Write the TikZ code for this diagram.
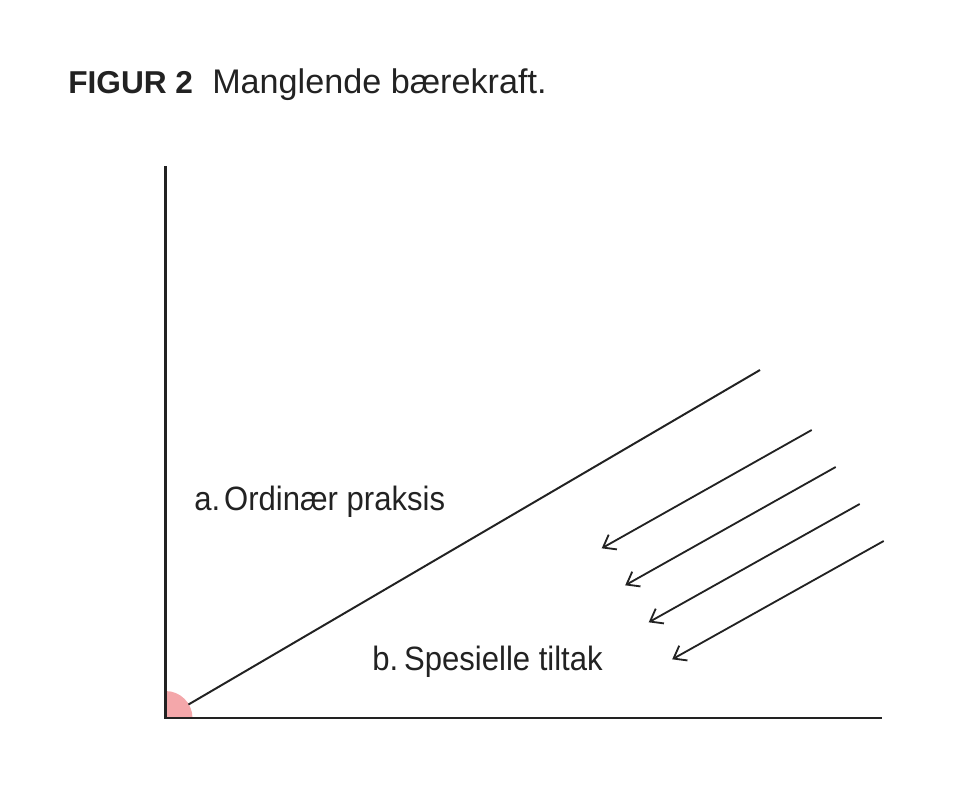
\documentclass[tikz,border=0pt]{standalone}
\usepackage{fontspec}
\setmainfont{Liberation Sans}
\newfontfamily\narrowfont[FakeStretch=0.92]{Liberation Sans}
\usepackage{xcolor}
\usetikzlibrary{arrows.meta}
\definecolor{originpink}{RGB}{244,167,170}
\definecolor{inkgray}{RGB}{34,34,34}

\begin{document}
\begin{tikzpicture}[x=0.025cm,y=-0.025cm,
    labeltext/.style={anchor=base west,inner sep=0pt,text=inkgray,font=\narrowfont\fontsize{24}{28}\selectfont},
    axis/.style={draw=inkgray,line width=1.7pt},
    flow/.style={draw=inkgray,line width=1.3pt,-{Straight Barb[length=8pt,width=12pt,line width=1.3pt]}}]
    \useasboundingbox (0,0) rectangle (960,788);
    % Title
    \node[labeltext,font=\fontsize{22.5}{27}\selectfont\bfseries] (fig) at (68,94) {FIGUR 2};
    \node[labeltext,font=\fontsize{24.3}{28}\selectfont] (caption) at (212,94) {Manglende bærekraft.};
    % Pink quarter at origin
    \coordinate (O) at (165.5,718);
    \fill[originpink] (O) -- ++(27,0) arc[start angle=0,end angle=-90,radius=27] -- cycle;
    % Axes
    \coordinate (ytop) at (165.5,166);
    \coordinate (xend) at (882,718);
    \draw[axis] (ytop) -- (O) -- (xend);
    % Dividing line
    \coordinate (split start) at (188.5,704.5);
    \coordinate (split end) at (760,370);
    \draw[draw=inkgray,line width=1.4pt] (split start) -- (split end);
    % Arrows pushing down
    \foreach \k in {0,...,3}{
        \coordinate (push start \k) at (811.7+24*\k,430+37*\k);
        \coordinate (push end \k) at (601.7+23.5*\k,548.3+37*\k);
        \draw[flow] (push start \k) -- (push end \k);
    }
    % Region labels
    \node[labeltext] (ordinary) at (194,510) {a.\hspace{0.12em}Ordinær praksis};
    \node[labeltext] (special) at (372,670) {b.\hspace{0.18em}Spesielle tiltak};
\end{tikzpicture}
\end{document}
